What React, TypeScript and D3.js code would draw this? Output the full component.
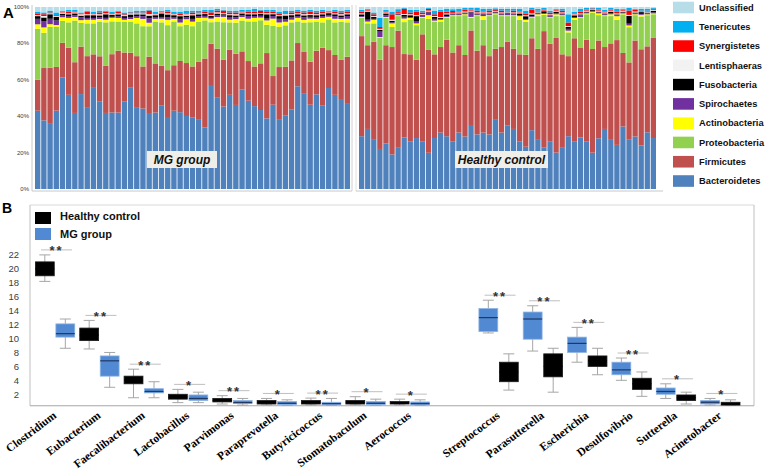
import React from 'react';
import * as d3 from 'd3';

const W = 766;
const H = 469;

// ---------------- Panel A data (percent per sample) ----------------
const phyla = ['Bacteroidetes', 'Firmicutes', 'Proteobacteria', 'Actinobacteria', 'Spirochaetes', 'Fusobacteria', 'Lentisphaeras', 'Synergistetes', 'Tenericutes', 'Unclassified'];
const phylaColors = ['#4f81bd', '#c0504d', '#92d050', '#ffff00', '#7030a0', '#000000', '#f2f2f2', '#ff0000', '#00b0f0', '#b7dee8'];
const legendOrder = ['Unclassified', 'Tenericutes', 'Synergistetes', 'Lentisphaeras', 'Fusobacteria', 'Spirochaetes', 'Actinobacteria', 'Proteobacteria', 'Firmicutes', 'Bacteroidetes'];

const mgBacteroidetes = [43,38,36,43,61,52,42,52,45,56, 48,42,42,42,48,56,45,44,42,42, 46,40,43,42,40,39,38,34,58,51, 46,52,46,55,49,46,44,40,47,38, 41,44,57,53,47,52,46,56,52,49, 47];
const mgFirmicutes = [17,29,31,24,19,26,28,26,28,18, 25,26,32,34,27,19,28,23,32,27, 22,26,25,28,29,28,32,38,23,27, 26,25,28,21,22,22,26,37,16,29, 27,27,24,23,24,24,32,21,22,22, 26];
const mgProteobacteria = [28,19.5,22.6,22,12,14,23,13,18,17, 19,24,18,16,17,17,18,22,17,23, 24,25,24,19,21,22,22,21,12,15, 21,15,17,17,22,25,24,16,28,22, 23,21,12,16,22,16,14,17,18,21, 19];
const mgActinobacteria = [2.5,3,1.5,1,2,2.5,2,1.5,2,2, 1.5,1.5,2,2,1,1.5,3,4,2,1.5, 2,3,1.5,2,3,2.5,2,1.5,2,2.5, 3,1.5,2,2,1.5,2,1.5,2.5,4,2.5, 2,1.5,2,1.5,2,1.5,2.5,1.5,2,1.5, 2];
const mgSpirochaetes = [3,3.5,3,2.5,1,1,1,1.5,1,1, 1,1,0.5,1,1,1,1,1.5,2.5,1, 1,1.5,1,2,1,1.5,1,1,0.5,1, 1,1.5,1,1,1.5,1,1,1,1.5,2, 1.5,1.5,1,1.5,1,1,1,1,1.5,1, 1.5];
const mgFusobacteria = [1.5,2,2.5,2,1,1,1,1,1.5,1.5, 1,2,1,1,1,1.5,1,1,1.5,1, 2,1.5,1,1.5,1,2,1,1,1,1, 0.5,1,1,1,1,1,1,2.5,1,1.5, 2,1,1,1,1,1,1,1,1,1, 1];
const mgLentisphaeras = [0.5,0.8,0.5,0.4,0.6,0.5,0.5,0.7,0.5,0.5, 0.6,0.5,0.4,0.5,0.5,0.6,0.5,0.5,0.8,0.5, 0.5,0.6,0.5,0.5,0.7,0.5,0.5,0.4,0.5,0.6, 0.5,0.5,0.6,0.5,0.5,0.5,0.4,0.6,0.5,0.5, 0.7,0.5,0.5,0.6,0.5,0.5,0.5,0.4,0.5,0.6, 0.5];
const mgSynergistetes = [1,1,0.5,0.5,0.5,1,0.5,0.5,1.5,0.5, 1,1,0.5,1,0.5,0.5,0.5,0.5,2,0.5, 0.5,1,0.5,1,0.5,1,0.5,1,1.5,1, 1.5,1,1,0.5,1,1,1.5,1,1,1, 0.5,1,1,1,1.5,1,1,0.5,1,1, 1];
const mgTenericutes = [1,1,1,1.5,0.5,1,1,0.5,0.5,1, 1,0.5,1,0.5,1,0.5,1,1,0.5,1, 0.5,1,1,1,1.5,1,1,1,1.5,1, 0.5,1,1,1,1,1.5,0.5,1,1,1, 1.5,1,1,1,1,1,1,0.5,1,1, 1];
const mgUnclassified = [2.5,3,2,3,2,1.5,1.5,3,2,2.5, 2,2,2.5,2,3,2.5,2,2,1.5,2.5, 2,1.5,2.5,2.5,2,2,2,1.5,1.5,1, 1.5,2,2,1.5,1.5,1,1.5,1.5,1.5,2.5, 2,2,1.5,2,1.5,2,1.5,2,1.5,2, 1.5];

const hcBacteroidetes = [29,33,27,22,25,19,23,29,26,28, 26,20,28,31,29,26,31,29,35,30, 31,30,38,31,35,33,26,23,32,27, 23,26,20,23,29,26,28,26,20,28, 33,27,24,34,28,29,24,31,28];
const hcFirmicutes = [55,46,54,49,54,59,64,47,48,43, 59,57,46,47,53,49,48,45,53,46, 48,43,39,47,46,44,48,50,50,50, 64,53,63,51,44,56,49,56,57,54, 45,53,57,40,44,53,53,47,55];
const hcProteobacteria = [10,12,10,12,15,11,8,18,19,19, 9,17,18,14,12,20,16,22,7,19, 14,22,19,17,14,18,19,18,11,18, 9,14,12,21,13,10,16,14,20,14, 17,15,11,21,20,14,18,17,13];
const hcActinobacteria = [0.5,1,2,0.5,0.5,2,0.5,2,1,1, 0.5,2,0.5,1,0.5,0.5,0.5,0.5,0.5,0.5, 2,0.5,0.5,0.5,0.5,0.5,2,1,0.5,1, 0.5,0.5,1,0.5,1,1,0.5,0.5,0.5,1, 0.5,1,2,0.5,1,0.5,1,0.5,0.5];
const hcSpirochaetes = [0.5,1,0.5,3,1,0.5,0.5,1,0.5,1, 0.5,1.5,1,0.5,0.5,0.5,0.5,0.5,2.5,0.5, 1,0.5,0.5,0.5,1,0.5,0.5,0.5,0.5,0.5, 0.5,0.5,0.5,0.5,1,0.5,1,0.5,0.5,0.5, 0.5,0.5,0.5,0.5,1,0.5,0.5,0.5,0.5];
const hcFusobacteria = [1,4.5,1,1,1,1,0.5,1,1,3, 0.5,0.5,1,0.5,1,0.5,0.5,0.5,0.5,0.5, 0.5,0.5,0.5,0.5,0.5,0.5,1,1.5,1,0.5, 1,0.5,1,0.5,1,1,0.5,0.5,0.5,0.5, 0.5,1,0.5,0.5,4.5,0.5,1,0.5,1];
const hcLentisphaeras = [0.5,0.5,0.5,0.5,0.5,0.5,0.3,0.5,0.5,0.5, 0.5,0.5,0.5,0.5,0.5,0.3,0.5,0.5,0.5,0.5, 0.5,0.5,0.3,0.5,0.5,0.5,0.5,0.5,0.5,0.5, 0.3,0.5,0.5,0.5,0.5,0.5,0.5,0.5,0.3,0.5, 0.5,0.5,0.5,0.5,0.5,0.5,0.3,0.5,0.5];
const hcSynergistetes = [1,0.5,1,1,0.5,3,0.5,3,1,2, 1,1,1,3,1,1,0.5,1,0.5,1, 0.5,1,0.5,1,0.5,1,0.5,1,2,0.5, 0.5,1,0.5,1,2,0.5,1,0.5,0.5,0.5, 0.5,0.5,1,0.5,2.5,1,0.5,0.5,0.5];
const hcTenericutes = [1,0.5,1,5,1,1.5,1.5,0.5,1.5,1, 1,0.5,2,1,1.5,1,1.5,1,1,1.5, 1.5,1,1,1,1,1,1.5,1.5,1,1, 1,1,0.5,1,4.5,1,1.5,1,0.5,1, 1,1,1.5,0.5,1.5,0.5,1,1,0.5];
const hcUnclassified = [1.5,1,3,6,1.5,2.5,1.2,0.5,1.5,1.5, 2,0.5,2,1.5,1,1.2,1,0.5,0.5,0.5, 1,1,0.7,1,1,1,1,2,0.5,1, 0.5,2,1,1,4,2.5,1,0.5,0.3,0.5, 1.5,0.5,1,1,0.5,1,1,1,0.5];

const mgSeries = [mgBacteroidetes, mgFirmicutes, mgProteobacteria, mgActinobacteria, mgSpirochaetes, mgFusobacteria, mgLentisphaeras, mgSynergistetes, mgTenericutes, mgUnclassified];
const hcSeries = [hcBacteroidetes, hcFirmicutes, hcProteobacteria, hcActinobacteria, hcSpirochaetes, hcFusobacteria, hcLentisphaeras, hcSynergistetes, hcTenericutes, hcUnclassified];
const pctTicks = [0, 0.2, 0.4, 0.6, 0.8, 1];

// ---------------- Panel B data ----------------
const genera = ['Clostridium', 'Eubacterium', 'Faecalibacterium', 'Lactobacillus', 'Parvimonas', 'Paraprevotella', 'Butyricicoccus', 'Stomatobaculum', 'Aerococcus', '', 'Streptococcus', 'Parasutterella', 'Escherichia', 'Desulfovibrio', 'Sutterella', 'Acinetobacter'];
// [min, q1, median, q3, max]
const hcStats: Record<string, number[]> = {
  Clostridium: [18.2, 19.0, 20.0, 21.0, 22.0],
  Eubacterium: [8.5, 9.7, 10.5, 11.5, 12.6],
  Faecalibacterium: [1.5, 3.5, 4.0, 4.6, 5.6],
  Lactobacillus: [0.8, 1.3, 1.6, 2.0, 2.7],
  Parvimonas: [0.6, 0.9, 1.1, 1.4, 1.8],
  Paraprevotella: [0.45, 0.6, 0.85, 1.1, 1.4],
  Butyricicoccus: [0.45, 0.6, 0.85, 1.1, 1.45],
  Stomatobaculum: [0.45, 0.6, 0.85, 1.1, 1.65],
  Aerococcus: [0.45, 0.6, 0.75, 0.95, 1.3],
  Streptococcus: [2.6, 3.8, 5.2, 6.6, 7.8],
  Parasutterella: [2.3, 4.5, 6.0, 7.8, 8.6],
  Escherichia: [4.8, 6.0, 6.8, 7.5, 8.6],
  Desulfovibrio: [1.7, 2.7, 3.5, 4.3, 5.2],
  Sutterella: [0.6, 1.1, 1.5, 1.9, 2.3],
  Acinetobacter: [0.4, 0.45, 0.6, 0.85, 1.2],
};
const mgStats: Record<string, number[]> = {
  Clostridium: [8.6, 10.2, 10.7, 12.1, 12.8],
  Eubacterium: [3.0, 4.6, 6.8, 7.5, 8.0],
  Faecalibacterium: [1.5, 2.2, 2.4, 2.8, 3.8],
  Lactobacillus: [0.8, 1.1, 1.4, 1.9, 2.3],
  Parvimonas: [0.45, 0.7, 0.8, 1.1, 1.4],
  Paraprevotella: [0.4, 0.5, 0.7, 0.95, 1.2],
  Butyricicoccus: [0.4, 0.5, 0.65, 0.85, 1.4],
  Stomatobaculum: [0.4, 0.5, 0.7, 0.95, 1.3],
  Aerococcus: [0.4, 0.5, 0.65, 0.9, 1.2],
  Streptococcus: [10.8, 11.0, 13.0, 14.3, 15.5],
  Parasutterella: [8.2, 9.9, 12.8, 13.8, 14.7],
  Escherichia: [6.6, 8.0, 9.3, 10.2, 11.6],
  Desulfovibrio: [4.0, 4.8, 5.5, 6.6, 7.2],
  Sutterella: [1.4, 2.0, 2.4, 2.9, 3.5],
  Acinetobacter: [0.45, 0.6, 0.85, 1.1, 1.4],
};
const firstBox: Record<string, string> = {
  Clostridium: 'HC', Eubacterium: 'HC', Faecalibacterium: 'HC', Lactobacillus: 'HC', Parvimonas: 'HC',
  Paraprevotella: 'HC', Butyricicoccus: 'HC', Stomatobaculum: 'HC', Aerococcus: 'HC',
  Streptococcus: 'MG', Parasutterella: 'MG', Escherichia: 'MG', Desulfovibrio: 'MG', Sutterella: 'MG', Acinetobacter: 'MG',
};
const significance: Record<string, string> = {
  Clostridium: '**', Eubacterium: '**', Faecalibacterium: '**', Lactobacillus: '*', Parvimonas: '**',
  Paraprevotella: '*', Butyricicoccus: '**', Stomatobaculum: '*', Aerococcus: '*',
  Streptococcus: '**', Parasutterella: '**', Escherichia: '**', Desulfovibrio: '**', Sutterella: '*', Acinetobacter: '*',
};
const yTicksB = [2, 4, 6, 8, 10, 12, 14, 16, 18, 20, 22];

const SANS = 'Liberation Sans, Arial, sans-serif';
const SERIF = 'Liberation Serif, Times New Roman, serif';

function makeRows(series: number[][]) {
  return series[0].map((_, i) => {
    const row: Record<string, number> = {};
    phyla.forEach((p, k) => { row[p] = series[k][i]; });
    return row;
  });
}

function StackPanel({ series, x0, x1, yA }: { series: number[][]; x0: number; x1: number; yA: d3.ScaleLinear<number, number> }) {
  const rows = makeRows(series);
  const stacked = d3.stack<Record<string, number>>().keys(phyla).offset(d3.stackOffsetExpand)(rows);
  const x = d3.scaleBand<number>().domain(d3.range(rows.length)).range([x0, x1]).paddingInner(0.13);
  return (
    <g>
      {stacked.map((layer, li) => (
        <g key={li} fill={phylaColors[li]}>
          {layer.map((d, i) => (
            <rect key={i} x={x(i)} y={yA(d[1])} width={x.bandwidth()} height={Math.max(0, yA(d[0]) - yA(d[1]))} />
          ))}
        </g>
      ))}
    </g>
  );
}

export default function App() {
  const yA = d3.scaleLinear().domain([0, 1]).range([189, 7]);

  // Panel B scales
  const xB = d3.scaleBand<string>().domain(genera).range([32.9, 742.5]).padding(0);
  const step = xB.bandwidth();
  const sub = d3.scaleBand<string>().domain(['left', 'right']).range([2.5, step - 2.5]).paddingInner(0.08);
  const bw = sub.bandwidth();
  const yB = d3.scaleLinear().domain([0, 22]).range([408.2, 254.9]);
  const frameBottom = yB(0.35);

  const boxEls: React.ReactNode[] = [];
  genera.filter((g) => g !== '').forEach((g) => {
    const bx = xB(g)!;
    const order = firstBox[g] === 'HC' ? ['HC', 'MG'] : ['MG', 'HC'];
    order.forEach((grp, oi) => {
      const s = grp === 'HC' ? hcStats[g] : mgStats[g];
      const left = bx + sub(oi === 0 ? 'left' : 'right')!;
      const cx = left + bw / 2;
      const fill = grp === 'HC' ? '#000000' : '#5189d2';
      const stroke = grp === 'HC' ? '#1a1a1a' : '#8db3e2';
      const med = grp === 'HC' ? '#000000' : '#1f3864';
      boxEls.push(
        <g key={g + grp}>
          <line x1={cx} x2={cx} y1={yB(s[4])} y2={yB(s[3])} stroke="#a6a6a6" strokeWidth={1} />
          <line x1={cx} x2={cx} y1={yB(s[1])} y2={yB(s[0])} stroke="#a6a6a6" strokeWidth={1} />
          <line x1={cx - 5.5} x2={cx + 5.5} y1={yB(s[4])} y2={yB(s[4])} stroke="#a6a6a6" strokeWidth={1} />
          <line x1={cx - 5.5} x2={cx + 5.5} y1={yB(s[0])} y2={yB(s[0])} stroke="#a6a6a6" strokeWidth={1} />
          <rect x={left} y={yB(s[3])} width={bw} height={yB(s[1]) - yB(s[3])} fill={fill} stroke={stroke} strokeWidth={0.8} />
          <line x1={left} x2={left + bw} y1={yB(s[2])} y2={yB(s[2])} stroke={med} strokeWidth={1.2} />
        </g>
      );
    });
    const center = bx + step / 2;
    const top = Math.max(hcStats[g][4], mgStats[g][4]);
    const ly = yB(top) - 5;
    boxEls.push(
      <g key={g + 'sig'}>
        <line x1={center - 14} x2={center + 17} y1={ly} y2={ly} stroke="#bfbfbf" strokeWidth={1} />
        <text x={center + 1.5} y={ly + 5.5} textAnchor="middle" fontFamily={SANS} fontSize={13} fontWeight="bold" letterSpacing={2} fill="#333">{significance[g]}</text>
      </g>
    );
  });

  return (
    <svg width={W} height={H} style={{ position: 'absolute', left: 0, top: 0, background: '#fff' }} xmlns="http://www.w3.org/2000/svg">
      <rect width={W} height={H} fill="#fff" />
      {/* Panel A */}
      <text x={3} y={18} fontFamily={SANS} fontWeight="bold" fontSize={15} fill="#000">A</text>
      {pctTicks.map((t) => (
        <text key={t} x={29} y={yA(t) + 2} textAnchor="end" fontFamily={SANS} fontSize={6} fill="#404040">{`${Math.round(t * 100)}%`}</text>
      ))}
      <StackPanel series={mgSeries} x0={35} x1={350} yA={yA} />
      <StackPanel series={hcSeries} x0={359} x1={656} yA={yA} />
      <line x1={32} x2={32} y1={5} y2={191} stroke="#c8c8c8" strokeWidth={1} />
      <line x1={32} x2={352} y1={191} y2={191} stroke="#c8c8c8" strokeWidth={1} />
      <line x1={352} x2={352} y1={5} y2={191} stroke="#d0d0d0" strokeWidth={1} />
      <line x1={356} x2={356} y1={5} y2={191} stroke="#e0e0e0" strokeWidth={1} />
      <line x1={356} x2={663} y1={191} y2={191} stroke="#c8c8c8" strokeWidth={1} />
      <rect x={147} y={151} width={70} height={17} fill="#efeee8" />
      <text x={182} y={164} textAnchor="middle" fontFamily={SANS} fontSize={12} fontWeight="bold" fontStyle="italic" fill="#111">MG group</text>
      <rect x={455} y={151} width={93} height={17} fill="#efeee8" />
      <text x={501.5} y={164} textAnchor="middle" fontFamily={SANS} fontSize={12} fontWeight="bold" fontStyle="italic" fill="#111">Healthy control</text>
      {legendOrder.map((name, i) => {
        const cy = 7.5 + i * 19.28;
        return (
          <g key={name}>
            <rect x={673} y={cy - 5.8} width={21} height={11.6} fill={phylaColors[phyla.indexOf(name)]} />
            <text x={699} y={cy + 3.2} fontFamily={SANS} fontSize={9.3} fontWeight="bold" fill="#111">{name}</text>
          </g>
        );
      })}

      {/* Panel B */}
      <text x={2} y={213} fontFamily={SANS} fontWeight="bold" fontSize={14} fill="#000">B</text>
      <line x1={30} x2={754} y1={205} y2={205} stroke="#d9d9d9" strokeWidth={1} />
      <line x1={754} x2={754} y1={205} y2={frameBottom} stroke="#bfbfbf" strokeWidth={1} />
      <line x1={30} x2={30} y1={205} y2={frameBottom} stroke="#bfbfbf" strokeWidth={1} />
      <line x1={30} x2={754} y1={frameBottom} y2={frameBottom} stroke="#a6a6a6" strokeWidth={1} />
      {yTicksB.map((t) => (
        <text key={t} x={19} y={yB(t) + 3.3} textAnchor="end" fontFamily={SANS} fontSize={9.5} fill="#404040">{t}</text>
      ))}
      <rect x={35} y={212} width={16} height={12} fill="#000" />
      <text x={60} y={220} fontFamily={SANS} fontSize={11} fontWeight="bold" fill="#111">Healthy control</text>
      <rect x={35} y={228} width={16} height={12} fill="#5189d2" />
      <text x={60} y={237.5} fontFamily={SANS} fontSize={11} fontWeight="bold" fill="#111">MG group</text>
      {boxEls}
      {genera.filter((g) => g !== '').map((g) => {
        const ax = xB(g)! + step / 2 + 2;
        const ay = 417;
        return (
          <text key={g} x={ax} y={ay} transform={`rotate(-37 ${ax} ${ay})`} textAnchor="end" fontFamily={SERIF} fontSize={11.5} fontWeight="bold" fill="#000">{g}</text>
        );
      })}
    </svg>
  );
}
